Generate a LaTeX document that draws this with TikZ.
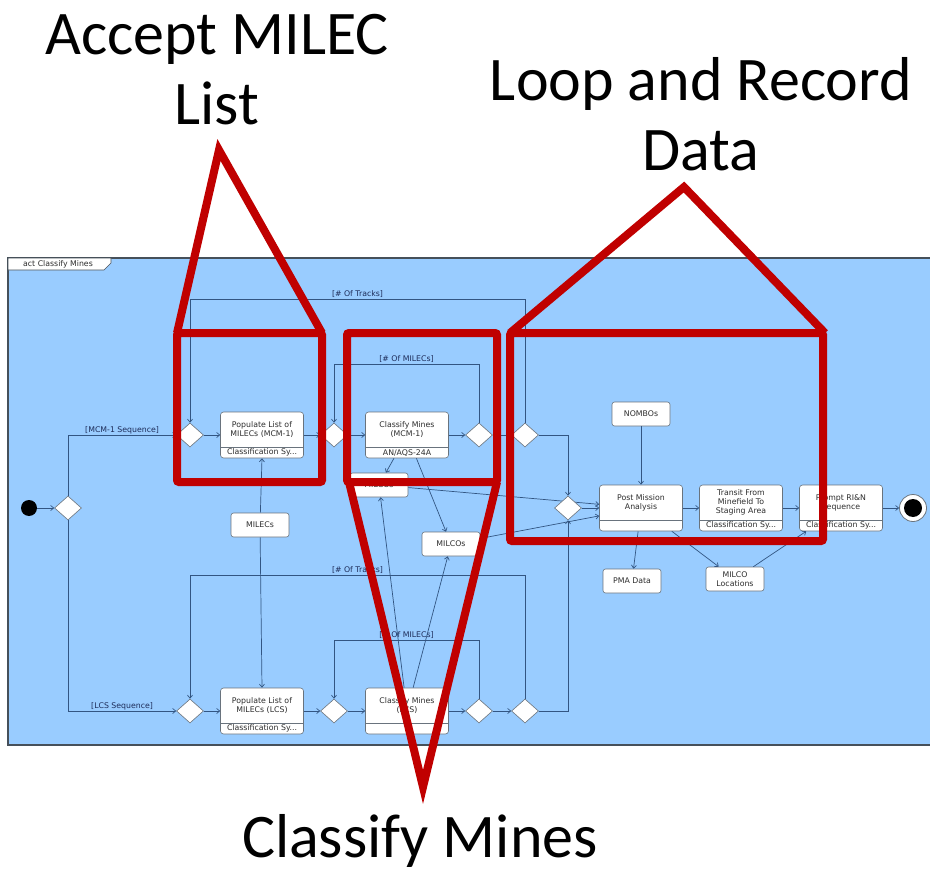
\documentclass[tikz,border=0pt]{standalone}
\usepackage{fontspec}
\usepackage{tikz}
\usetikzlibrary{shapes.geometric, arrows.meta, positioning, calc}
\newfontfamily\umlfamily{DejaVu Sans}
\newfontfamily\notefamily{Carlito}
\definecolor{umlblue}{RGB}{153,204,255}
\definecolor{framegray}{RGB}{70,80,90}
\definecolor{boxgray}{RGB}{105,115,125}
\definecolor{edgeblue}{RGB}{50,85,130}
\definecolor{guardblue}{RGB}{30,45,90}
\definecolor{txtdark}{RGB}{45,45,45}
\definecolor{markred}{RGB}{192,0,0}
\newcommand{\umlfont}{\umlfamily\fontsize{7.8}{9}\selectfont}
\newcommand{\notefont}{\notefamily\fontsize{62}{70}\selectfont}
\tikzset{
  act/.style={rectangle, rounded corners=3pt, draw=boxgray, fill=white,
    minimum width=83pt, minimum height=46pt, line width=0.6pt},
  acttext/.style={font=\umlfont, align=center, inner sep=0pt, text=txtdark},
  sepline/.style={draw=boxgray, line width=0.6pt},
  objnode/.style={rectangle, rounded corners=2.5pt, draw=boxgray, fill=white,
    minimum width=58pt, minimum height=24pt, font=\umlfont, align=center,
    inner sep=1pt, text=txtdark, line width=0.6pt},
  decision/.style={diamond, draw=boxgray, fill=white, minimum width=27pt,
    minimum height=24pt, inner sep=0pt, line width=0.6pt},
  startnode/.style={circle, fill=black, minimum size=16pt, inner sep=0pt},
  endnode/.style={circle, draw=boxgray, fill=white, minimum size=27pt,
    inner sep=0pt, line width=0.8pt,
    path picture={\fill[black] (path picture bounding box.center) circle (9pt);}},
  flow/.style={-{Straight Barb[length=3pt,width=5pt]}, draw=edgeblue, line width=0.7pt},
  guard/.style={font=\umlfont, text=guardblue, inner sep=1pt},
  redmark/.style={draw=markred, line width=8pt},
  notetext/.style={font=\notefont, align=center, inner sep=0pt}
}
% action with a compartment underneath
\newcommand{\actionbox}[4]{%
  \node[act] (#1) at (#2) {};
  \node[acttext] (#1-txt) at ([yshift=5.5pt]#1.center) {#3};
  \draw[sepline] ([yshift=11pt]#1.south west) -- ([yshift=11pt]#1.south east);
  \node[acttext] (#1-cmp) at ([yshift=5.5pt]#1.south) {#4};
}

\begin{document}
\begin{tikzpicture}[x=1pt, y=-1pt]
  \useasboundingbox (0,0) rectangle (930,872);
  \fill[white] (0,0) rectangle (930,872);

  % Activity frame
  \fill[umlblue] (8,258) rectangle (935,745);
  \draw[framegray, line width=1.2pt] (935,258) -- (8,258) -- (8,745) -- (935,745);
  \draw[framegray, fill=white, line width=0.6pt] (8,258) -- (111,258) -- (111,263) -- (104,270) -- (8,270) -- cycle;
  \node[acttext] (tab) at (58,264) {act Classify Mines};

  % MCM-1 branch
  \node[startnode] (start) at (29,508) {};
  \node[decision] (d0) at (68,508) {};
  \node[decision] (d1) at (190,435) {};
  \actionbox{popmcm}{262,435}{Populate List of\\MILECs (MCM-1)}{Classification Sy...}
  \node[decision] (d2) at (334,435) {};
  \actionbox{clsmcm}{407,435}{Classify Mines\\(MCM-1)}{AN/AQS-24A}
  \node[decision] (d3) at (479,435) {};
  \node[decision] (d4) at (525,435) {};

  % LCS branch
  \node[decision] (d6) at (190,711) {};
  \actionbox{poplcs}{262,711}{Populate List of\\MILECs (LCS)}{Classification Sy...}
  \node[decision] (d7) at (334,711) {};
  \actionbox{clslcs}{407,711}{Classify Mines\\(LCS)}{}
  \node[decision] (d8) at (479,711) {};
  \node[decision] (d9) at (525,711) {};

  % Objects and post mission
  \node[objnode] (milecs) at (260,525) {MILECs};
  \node[objnode] (milcoa) at (379,485) {MILCOs};
  \node[objnode] (milcob) at (451,544) {MILCOs};
  \node[objnode] (nombos) at (641,414) {NOMBOs};
  \actionbox{pma}{641,508}{Post Mission\\Analysis}{}
  \actionbox{transit}{741,508}{Transit From\\Minefield To\\Staging Area}{Classification Sy...}
  \actionbox{prompt}{841,508}{Prompt RI\&N\\Sequence}{Classification Sy...}
  \node[endnode] (stop) at (913,508) {};
  \node[objnode] (pmadata) at (632,581) {PMA Data};
  \node[objnode] (milcoloc) at (735,579) {MILCO\\Locations};

  \draw[flow] (milcoa) -- (pma);
  \node[decision] (d5) at (568,508) {};

  % Flows
  \coordinate (loopm) at (0,364);
  \coordinate (loopt) at (0,299);
  \coordinate (loopmb) at (0,640);
  \coordinate (looptb) at (0,575);
  \draw[flow] (start) -- (d0);
  \draw[flow] (d0.north) |- (d1.west) node[guard, pos=0.75, above] {[MCM-1 Sequence]};
  \draw[flow] (d0.south) |- (d6.west) node[guard, pos=0.75, above] {[LCS Sequence]};
  \draw[flow] (d1) -- (popmcm);
  \draw[flow] (popmcm) -- (d2);
  \draw[flow] (d2) -- (clsmcm);
  \draw[flow] (clsmcm) -- (d3);
  \draw[flow] (d3) -- (d4);
  \draw[flow] (d3.north) -- (d3.north |- loopm) -| (d2.north) node[guard, pos=0.25, above] {[\# Of MILECs]};
  \draw[flow] (d4.north) -- (d4.north |- loopt) -| (d1.north) node[guard, pos=0.25, above] {[\# Of Tracks]};
  \draw[flow] (d4.east) -| (d5.north);
  \draw[flow] (d6) -- (poplcs);
  \draw[flow] (poplcs) -- (d7);
  \draw[flow] (d7) -- (clslcs);
  \draw[flow] (clslcs) -- (d8);
  \draw[flow] (d8) -- (d9);
  \draw[flow] (d8.north) -- (d8.north |- loopmb) -| (d7.north) node[guard, pos=0.25, above] {[\# Of MILECs]};
  \draw[flow] (d9.north) -- (d9.north |- looptb) -| (d6.north) node[guard, pos=0.25, above] {[\# Of Tracks]};
  \draw[flow] (d9.east) -| (d5.south);
  \draw[flow] (milecs) -- (popmcm.south);
  \draw[flow] (milecs) -- (poplcs.north);
  \draw[flow] (clsmcm) -- (milcoa);
  \draw[flow] (clsmcm) -- (milcob);
  \draw[flow] (clslcs) -- (milcoa);
  \draw[flow] (clslcs) -- (milcob);
  \draw[flow] (d5) -- (pma);
  \draw[flow] (milcob) -- (pma);
  \draw[flow] (nombos) -- (pma);
  \draw[flow] (pma) -- (transit);
  \draw[flow] (transit) -- (prompt);
  \draw[flow] (prompt) -- (stop);
  \draw[flow] (pma) -- (pmadata);
  \draw[flow] (pma) -- (milcoloc);
  \draw[flow] (milcoloc) -- (prompt);

  % Red call-outs
  \draw[redmark, rounded corners=2pt] (177,333) rectangle (322,482);
  \draw[redmark, rounded corners=2pt] (347,333) rectangle (497,482);
  \draw[redmark, rounded corners=2pt] (510,333) rectangle (823,541);
  \draw[redmark] (177,333) -- (219,150) -- (322,333);
  \draw[redmark] (510,333) -- (684,187) -- (825,333);
  \draw[redmark] (349,482) -- (423,787) -- (497,482);
  \node[notetext, anchor=north] (accept) at (217,14) {Accept MILEC\\List};
  \node[notetext, anchor=north] (looprec) at (701,57) {Loop and Record\\Data};
  \node[notetext, anchor=base] (classify) at (420,857) {Classify Mines};
\end{tikzpicture}
\end{document}
